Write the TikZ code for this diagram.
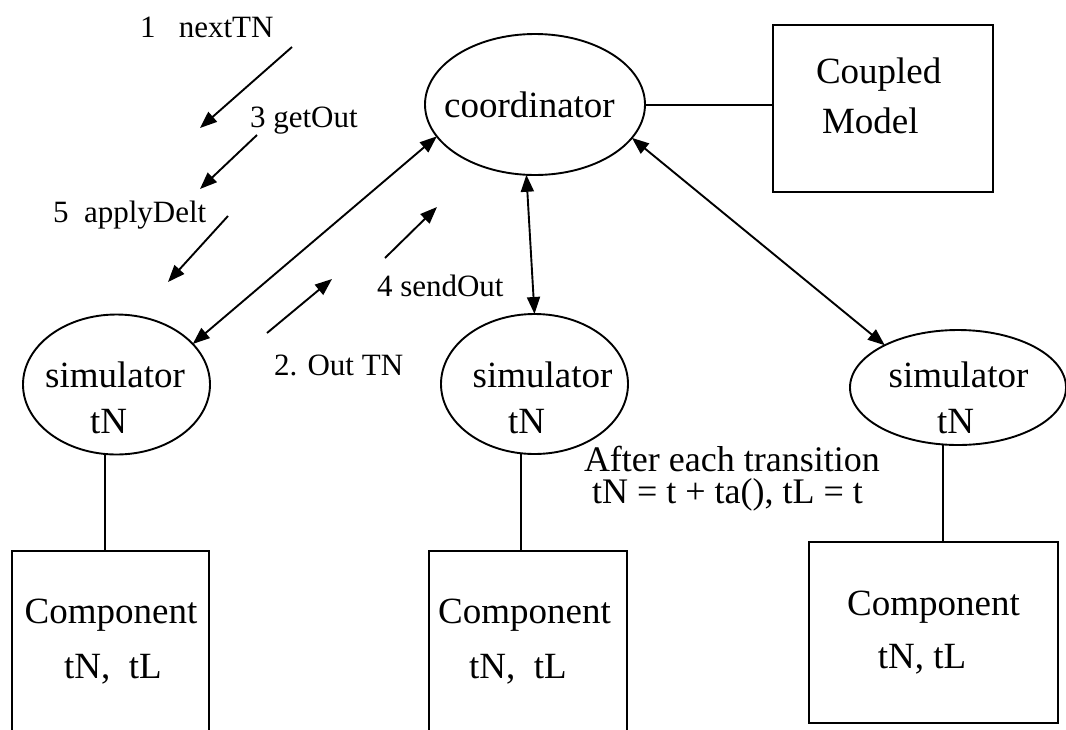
\documentclass[tikz,border=0pt]{standalone}
\usepackage{fontspec}
\setmainfont{Liberation Serif}
\usetikzlibrary{arrows.meta,shapes.geometric}
\begin{document}
\begin{tikzpicture}[x=1pt,y=-1pt,
  every node/.style={inner sep=0pt, outer sep=0pt},
  ln/.style={line width=2pt, draw=black},
  ell/.style={ellipse, draw=black, line width=1.9pt},
  boxn/.style={rectangle, draw=black, line width=1.9pt},
  big/.style={font=\fontsize{37}{44}\selectfont, anchor=base},
  bigw/.style={font=\fontsize{37}{44}\selectfont, anchor=base west},
  lab/.style={font=\fontsize{31}{37}\selectfont, anchor=base west},
  note/.style={font=\fontsize{36}{32}\selectfont, anchor=north west, align=left},
  arr/.style={line width=1.9pt, -{Triangle[length=17pt,width=13pt]}},
  darr/.style={line width=1.9pt, {Triangle[length=17pt,width=13pt]}-{Triangle[length=17pt,width=13pt]}},
]
\useasboundingbox (0,0) rectangle (1066,729);

% shapes
\node[ell, minimum width=220pt, minimum height=141pt] (coord) at (535,104.5) {};
\node[boxn, minimum width=220pt, minimum height=167pt] (cm) at (883,108.5) {};
\node[ell, minimum width=187pt, minimum height=140pt] (sim1) at (116.5,384.5) {};
\node[ell, minimum width=187pt, minimum height=140pt] (sim2) at (534.5,384) {};
\node[ell, minimum width=216pt, minimum height=115pt] (sim3) at (958,387.5) {};
\node[boxn, minimum width=197pt, minimum height=182pt] (comp1) at (110.5,642) {};
\node[boxn, minimum width=198pt, minimum height=182pt] (comp2) at (528,642) {};
\node[boxn, minimum width=249pt, minimum height=181pt] (comp3) at (933.5,632.5) {};

% texts
\node[big] (tcoord) at (529.5,117) {coordinator};
\node[bigw] (tcm1) at (816,83) {Coupled};
\node[bigw] (tcm2) at (822,133) {Model};
\node[big] (ts1a) at (115,387) {simulator};
\node[big] (ts1b) at (108.5,433) {tN};
\node[big] (ts2a) at (542.5,387) {simulator};
\node[big] (ts2b) at (526.5,433) {tN};
\node[big] (ts3a) at (958.5,387) {simulator};
\node[big] (ts3b) at (955.5,433) {tN};
\node[big] (tc1a) at (111,623) {Component};
\node[big] (tc1b) at (113,678) {tN,\ \ tL};
\node[big] (tc2a) at (524.5,623) {Component};
\node[big] (tc2b) at (518,678) {tN,\ \ tL};
\node[big] (tc3a) at (933.5,615) {Component};
\node[big] (tc3b) at (922,668) {tN, tL};

\node[lab] (l1) at (140,37) {1\ \ \ nextTN};
\node[lab] (l3) at (250,127) {3 getOut};
\node[lab] (l5) at (53,222) {5\ \ applyDelt};
\node[lab] (l4) at (377,296) {4 sendOut};
\node[lab] (l2) at (274,375) {2. Out TN};
\node[note] (n1) at (584,446) {After each transition\\\hspace*{8pt}tN = t + ta(), tL = t};

% connectors between nodes
\draw[ln] (coord.east) -- (coord.east -| cm.west);
\draw[darr] (coord.198) -- (sim1.28);
\draw[darr] (coord.263) -- (sim2.north);
\draw[darr] (coord.341) -- (sim3.150);
\draw[ln] (sim1.261) -- (sim1.261 |- comp1.north);
\draw[ln] (sim2.259) -- (sim2.259 |- comp2.north);
\draw[ln] (sim3.255) -- (sim3.255 |- comp3.north);

% free message arrows
\coordinate (a1s) at (292,47);  \coordinate (a1e) at (200,128);
\coordinate (a3s) at (257,135); \coordinate (a3e) at (200,189);
\coordinate (a5s) at (228,216); \coordinate (a5e) at (168,282);
\coordinate (a2s) at (267,333); \coordinate (a2e) at (332,279);
\coordinate (a4s) at (385,258); \coordinate (a4e) at (437,207);
\draw[arr] (a1s) -- (a1e);
\draw[arr] (a3s) -- (a3e);
\draw[arr] (a5s) -- (a5e);
\draw[arr] (a2s) -- (a2e);
\draw[arr] (a4s) -- (a4e);
\end{tikzpicture}
\end{document}
